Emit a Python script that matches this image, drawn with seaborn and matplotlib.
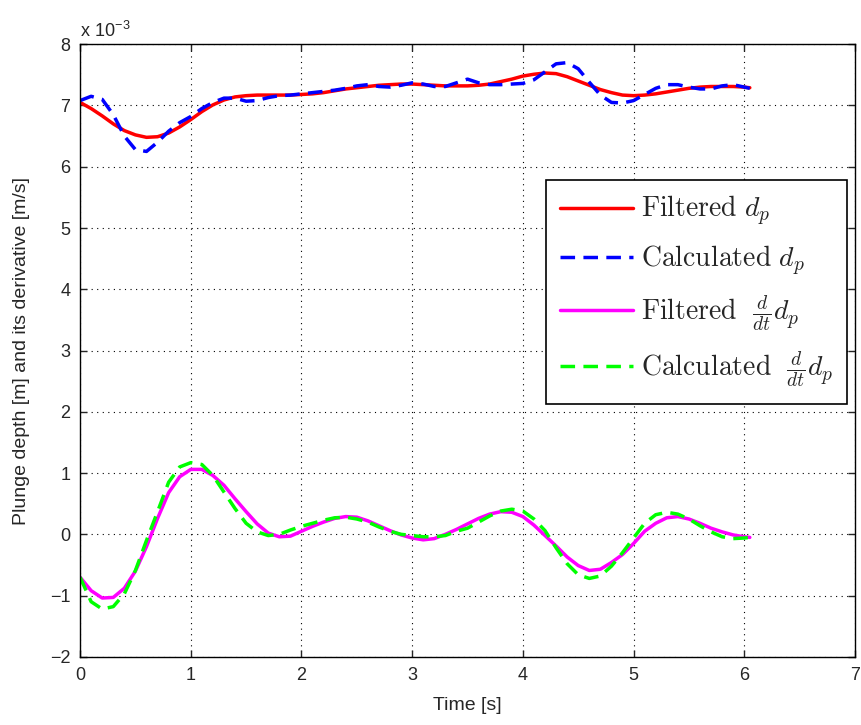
import numpy as np
import pandas as pd
import seaborn as sns
import matplotlib.pyplot as plt

# data (values in units of 1e-3)
time = [0.0, 0.1, 0.2, 0.3, 0.4, 0.5, 0.6, 0.7, 0.8, 0.9,
        1.0, 1.1, 1.2, 1.3, 1.4, 1.5, 1.6, 1.7, 1.8, 1.9,
        2.0, 2.1, 2.2, 2.3, 2.4, 2.5, 2.6, 2.7, 2.8, 2.9,
        3.0, 3.1, 3.2, 3.3, 3.4, 3.5, 3.6, 3.7, 3.8, 3.9,
        4.0, 4.1, 4.2, 4.3, 4.4, 4.5, 4.6, 4.7, 4.8, 4.9,
        5.0, 5.1, 5.2, 5.3, 5.4, 5.5, 5.6, 5.7, 5.8, 5.9,
        6.0, 6.05]

filtered_dp = [7.05, 6.95, 6.83, 6.70, 6.59, 6.52, 6.48, 6.49, 6.55, 6.65,
               6.77, 6.90, 7.01, 7.09, 7.14, 7.16, 7.17, 7.17, 7.17, 7.17,
               7.18, 7.19, 7.21, 7.24, 7.27, 7.29, 7.31, 7.33, 7.34, 7.35,
               7.35, 7.34, 7.33, 7.32, 7.32, 7.32, 7.33, 7.35, 7.39, 7.43,
               7.48, 7.51, 7.53, 7.52, 7.47, 7.40, 7.33, 7.26, 7.21, 7.17,
               7.16, 7.17, 7.19, 7.22, 7.25, 7.28, 7.30, 7.31, 7.31, 7.31,
               7.30, 7.29]

calculated_dp = [7.08, 7.15, 7.10, 6.85, 6.50, 6.28, 6.25, 6.40, 6.58, 6.72,
                 6.82, 6.95, 7.05, 7.12, 7.12, 7.07, 7.08, 7.13, 7.16, 7.17,
                 7.19, 7.21, 7.23, 7.25, 7.28, 7.32, 7.34, 7.31, 7.30, 7.33,
                 7.37, 7.35, 7.31, 7.31, 7.37, 7.43, 7.37, 7.34, 7.34, 7.35,
                 7.36, 7.42, 7.55, 7.68, 7.70, 7.60, 7.38, 7.17, 7.05, 7.04,
                 7.08, 7.18, 7.28, 7.34, 7.34, 7.30, 7.27, 7.27, 7.32, 7.34,
                 7.30, 7.28]

filtered_ddp = [-0.70, -0.92, -1.04, -1.03, -0.88, -0.60, -0.20, 0.26, 0.68, 0.94,
                1.06, 1.06, 0.96, 0.80, 0.58, 0.37, 0.17, 0.02, -0.04, -0.03,
                0.05, 0.13, 0.20, 0.26, 0.29, 0.28, 0.22, 0.14, 0.06, -0.01,
                -0.06, -0.09, -0.07, 0.00, 0.08, 0.17, 0.26, 0.33, 0.37, 0.36,
                0.29, 0.15, -0.02, -0.19, -0.37, -0.51, -0.59, -0.57, -0.46, -0.33,
                -0.15, 0.05, 0.18, 0.27, 0.29, 0.25, 0.18, 0.10, 0.04, -0.01,
                -0.04, -0.05]

calculated_ddp = [-0.70, -1.10, -1.22, -1.18, -0.97, -0.59, -0.10, 0.37, 0.85, 1.10,
                  1.17, 1.14, 0.96, 0.69, 0.42, 0.18, 0.04, -0.02, 0.00, 0.07,
                  0.13, 0.18, 0.23, 0.27, 0.28, 0.25, 0.20, 0.12, 0.05, 0.00,
                  -0.02, -0.04, -0.04, -0.02, 0.05, 0.10, 0.20, 0.30, 0.38, 0.41,
                  0.38, 0.25, 0.06, -0.22, -0.48, -0.66, -0.72, -0.68, -0.52, -0.30,
                  -0.06, 0.18, 0.32, 0.36, 0.33, 0.25, 0.14, 0.04, -0.04, -0.07,
                  -0.06, -0.05]

labels = [r'$\mathrm{Filtered}\ d_p$', r'$\mathrm{Calculated}\ d_p$',
          r'$\mathrm{Filtered}\ \ \frac{d}{dt}d_p$', r'$\mathrm{Calculated}\ \ \frac{d}{dt}d_p$']
colors = ['#ff0000', '#0000ff', '#ff00ff', '#00ff00']

#%% style
sns.set_style('ticks')
plt.rcParams['font.family'] = ['Liberation Sans', 'DejaVu Sans']
plt.rcParams['mathtext.fontset'] = 'cm'
plt.rcParams['xtick.direction'] = 'in'
plt.rcParams['ytick.direction'] = 'in'

fig = plt.figure(figsize=(8.61, 7.25), dpi=100)
ax = fig.add_axes([0.093, 0.094, 0.9, 0.845])

dash = (0, (4.2, 2.4))
sns.lineplot(x=time, y=filtered_dp, color=colors[0], lw=2.5, label=labels[0], ax=ax)
sns.lineplot(x=time, y=calculated_dp, color=colors[1], lw=2.5, linestyle=dash, label=labels[1], ax=ax)
sns.lineplot(x=time, y=filtered_ddp, color=colors[2], lw=2.5, label=labels[2], ax=ax)
sns.lineplot(x=time, y=calculated_ddp, color=colors[3], lw=2.5, linestyle=dash, label=labels[3], ax=ax)

ax.set_xlim(0, 7)
ax.set_ylim(-2, 8)
ax.set_xticks(range(0, 8))
ax.set_yticks(range(-2, 9))
ax.set_yticklabels([str(v).replace('-', '\u2212') for v in range(-2, 9)])
ax.tick_params(labelsize=13, top=True, right=True, length=5, width=1, pad=7)
ax.grid(True, color='black', linestyle=(0, (1, 4)), linewidth=0.8)
for s in ax.spines.values():
    s.set_linewidth(1)
    s.set_color('black')

ax.set_xlabel('Time [s]', fontsize=14, labelpad=10)
ax.set_ylabel('Plunge depth [m] and its derivative [m/s]', fontsize=14, labelpad=14)
ax.text(0.0, 1.005, r'x 10$^{\mathregular{-3}}$', transform=ax.transAxes,
        fontsize=13, ha='left', va='bottom')

leg = ax.legend(loc='upper right', bbox_to_anchor=(0.99, 0.778), borderaxespad=0,
                fontsize=20, fancybox=False, framealpha=1, edgecolor='black',
                handlelength=2.6, handletextpad=0.3, labelspacing=0.55, borderpad=0.5)
leg.get_frame().set_linewidth(1.2)

fig.savefig('out.png', dpi=100)
